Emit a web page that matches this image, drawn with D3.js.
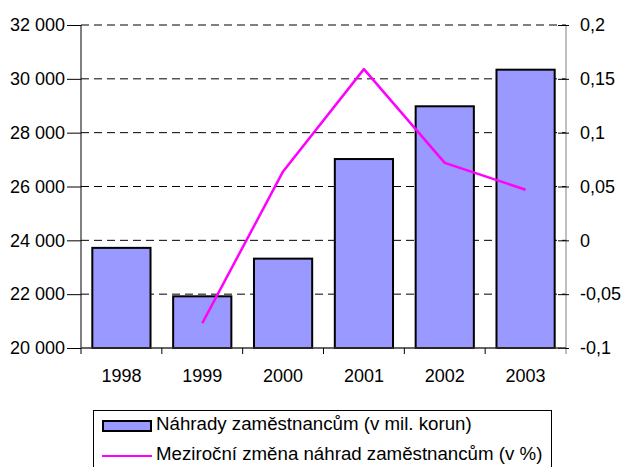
<!DOCTYPE html>
<html>
<head>
<meta charset="utf-8">
<script src="https://cdn.jsdelivr.net/npm/d3@7"></script>
<style>
    body { margin: 0; background: #fff; }
    svg text { font-family: "Liberation Sans", Arial, sans-serif; fill: #000; }
</style>
</head>
<body>
<div id="chart"></div>
<script>
const years = ["1998", "1999", "2000", "2001", "2002", "2003"];
// compensation of employees, mil. CZK
const nahrady = [23720, 21920, 23320, 27020, 28980, 30340];
// year-on-year change (no value for 1998)
const zmenaYears = ["1999", "2000", "2001", "2002", "2003"];
const zmena = [-0.077, 0.064, 0.159, 0.072, 0.047];
const leftTicks = [20000, 22000, 24000, 26000, 28000, 30000, 32000];
const rightTicks = [-0.1, -0.05, 0, 0.05, 0.1, 0.15, 0.2];
const legendLabels = ["Náhrady zaměstnancům (v mil. korun)", "Meziroční změna náhrad zaměstnancům (v %)"];

const w = 623, h = 467;
const plot = {left: 81, right: 566, top: 25, bottom: 348};
const fontSize = "18px";

let svg = d3.select("#chart")
    .append("svg")
    .attr("width", w)
    .attr("height", h);

let x = d3.scaleBand()
    .domain(years)
    .range([plot.left, plot.right])
    .paddingInner(0.28)
    .paddingOuter(0.14);

let band = d3.scaleBand().domain(years).range([plot.left, plot.right]);

let yLeft = d3.scaleLinear()
    .domain([20000, 32000])
    .range([plot.bottom, plot.top]);

let yRight = d3.scaleLinear()
    .domain([-0.1, 0.2])
    .range([plot.bottom, plot.top]);

let fmtLeft = v => d3.format(",")(v).replace(",", " ");
let fmtRight = v => String(+v.toFixed(2)).replace(".", ",");

// gridlines
svg.append("g")
    .selectAll("line")
    .data(leftTicks.slice(1))
    .join("line")
    .attr("x1", plot.left)
    .attr("x2", plot.right)
    .attr("y1", d => yLeft(d))
    .attr("y2", d => yLeft(d))
    .attr("stroke", "#000")
    .attr("stroke-width", 1)
    .attr("stroke-dasharray", "8,5");

// bars
svg.append("g")
    .selectAll("rect")
    .data(years)
    .join("rect")
    .attr("x", d => x(d))
    .attr("width", x.bandwidth())
    .attr("y", (d, i) => yLeft(nahrady[i]))
    .attr("height", (d, i) => plot.bottom - yLeft(nahrady[i]))
    .attr("fill", "#9999FF")
    .attr("stroke", "#000")
    .attr("stroke-width", 2);

// left axis
let gl = svg.append("g")
    .attr("transform", "translate(" + plot.left + ",0)")
    .call(d3.axisLeft(yLeft).tickValues(leftTicks).tickFormat(fmtLeft).tickSize(14).tickPadding(2));
gl.selectAll("line, path").attr("stroke", "#000");
gl.select(".domain").attr("d", "M0," + plot.top + "V" + (plot.bottom + 6));
gl.selectAll("text").style("font-size", fontSize).attr("font-family", null);

// right axis
let gr = svg.append("g")
    .attr("transform", "translate(" + plot.right + ",0)")
    .call(d3.axisRight(yRight).tickValues(rightTicks).tickFormat(fmtRight).tickSize(0).tickPadding(14));
gr.select(".domain").attr("d", "M0," + plot.top + "V" + (plot.bottom + 6)).attr("stroke", "#808080");
gr.selectAll(".tick").append("line")
    .attr("x1", -8)
    .attr("x2", 3)
    .attr("stroke", "#000");
gr.selectAll("text").style("font-size", fontSize).attr("font-family", null);

// bottom axis
svg.append("line")
    .attr("x1", plot.left)
    .attr("x2", plot.right)
    .attr("y1", plot.bottom)
    .attr("y2", plot.bottom)
    .attr("stroke", "#333")
    .attr("stroke-width", 1.5);

svg.append("g")
    .selectAll("line")
    .data(years.slice(1))
    .join("line")
    .attr("x1", d => band(d))
    .attr("x2", d => band(d))
    .attr("y1", plot.bottom)
    .attr("y2", plot.bottom + 6)
    .attr("stroke", "#000");

svg.append("g")
    .selectAll("text")
    .data(years)
    .join("text")
    .attr("x", d => band(d) + band.bandwidth() / 2)
    .attr("y", 382)
    .attr("text-anchor", "middle")
    .style("font-size", fontSize)
    .text(d => d);

// line series
let line = d3.line()
    .x((d, i) => band(zmenaYears[i]) + band.bandwidth() / 2)
    .y(d => yRight(d));

svg.append("path")
    .datum(zmena)
    .attr("fill", "none")
    .attr("stroke", "#FF00FF")
    .attr("stroke-width", 2.5)
    .attr("stroke-linejoin", "round")
    .attr("d", line);

// legend
let lg = svg.append("g");
lg.append("rect")
    .attr("x", 93.5)
    .attr("y", 410.5)
    .attr("width", 458)
    .attr("height", 70)
    .attr("fill", "#fff")
    .attr("stroke", "#000")
    .attr("stroke-width", 1);

lg.append("rect")
    .attr("x", 103)
    .attr("y", 421)
    .attr("width", 48)
    .attr("height", 10)
    .attr("fill", "#9999FF")
    .attr("stroke", "#000")
    .attr("stroke-width", 2);

lg.append("line")
    .attr("x1", 102)
    .attr("x2", 152)
    .attr("y1", 456)
    .attr("y2", 456)
    .attr("stroke", "#FF00FF")
    .attr("stroke-width", 2);

lg.selectAll("text.leg")
    .data(legendLabels)
    .join("text")
    .attr("class", "leg")
    .attr("x", 156)
    .attr("y", (d, i) => 430 + i * 29.5)
    .style("font-size", "18.7px")
    .text(d => d);
</script>
</body>
</html>
